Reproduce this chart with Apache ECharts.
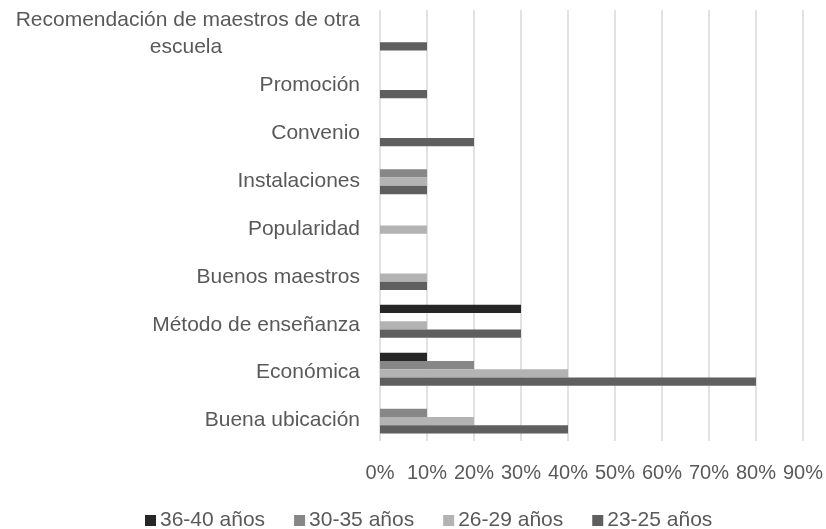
<!DOCTYPE html>
<html lang="es">
<head>
    <meta charset="UTF-8">
    <title>Motivos por edad</title>
    <script src="https://cdn.jsdelivr.net/npm/echarts@6/dist/echarts.min.js"></script>
    <style>
        html, body { margin: 0; padding: 0; background: #fff; }
    </style>
</head>
<body>
<div id="main" style="width: 826px;height:529px;"></div>

<script type="text/javascript">
    // categorias de abajo hacia arriba
    var categories = ['Buena ubicación', 'Económica', 'Método de enseñanza', 'Buenos maestros',
        'Popularidad', 'Instalaciones', 'Convenio', 'Promoción',
        'Recomendación de maestros de otra escuela'];
    var seriesNames = ['36-40 años', '30-35 años', '26-29 años', '23-25 años'];
    var s36a40 = [0, 10, 30, 0, 0, 0, 0, 0, 0];
    var s30a35 = [10, 20, 0, 0, 0, 10, 0, 0, 0];
    var s26a29 = [20, 40, 10, 10, 10, 10, 0, 0, 0];
    var s23a25 = [40, 80, 30, 10, 0, 10, 20, 10, 10];
    var xTicks = [0, 10, 20, 30, 40, 50, 60, 70, 80, 90];

    var colors = ['#262626', '#878787', '#b3b3b3', '#5f5f5f'];
    var font = 'Liberation Sans, Arial, sans-serif';
    var txt = '#595959';

    var myChart = echarts.init(document.getElementById('main'));

    function makeSeries(name, data, i) {
        return {
            name: name,
            type: 'bar',
            barGap: 0,
            barCategoryGap: '31%',
            itemStyle: { color: colors[i] },
            data: data
        };
    }

    var option = {
        animation: false,
        color: colors,
        grid: { left: 380, right: 21, top: 10, bottom: 88 },
        legend: {
            data: seriesNames,
            top: 510,
            left: 145,
            padding: 0,
            icon: 'rect',
            itemWidth: 11,
            itemHeight: 11,
            itemGap: 29,
            textStyle: { color: txt, fontSize: 21, fontFamily: font, padding: [0, 0, 0, -1] }
        },
        xAxis: {
            type: 'value',
            min: xTicks[0],
            max: xTicks[xTicks.length - 1],
            interval: 10,
            axisLine: { show: false },
            axisTick: { show: false },
            splitLine: { lineStyle: { color: '#d9d9d9', width: 1.5 } },
            axisLabel: {
                color: txt,
                fontSize: 20,
                fontFamily: font,
                margin: 22,
                formatter: '{value}%'
            }
        },
        yAxis: {
            type: 'category',
            data: categories,
            axisLine: { show: false },
            axisTick: { show: false },
            axisLabel: {
                color: txt,
                fontSize: 21,
                fontFamily: font,
                margin: 20,
                formatter: function (v) {
                    if (v.indexOf('Recomendación') === 0) {
                        return '{a|Recomendación de maestros de otra}\n{b|escuela}';
                    }
                    return '{c|' + v + '}';
                },
                rich: {
                    a: { fontSize: 21, color: txt, fontFamily: font, lineHeight: 27 },
                    b: { fontSize: 21, color: txt, fontFamily: font, lineHeight: 27, width: 348, align: 'center' },
                    c: { fontSize: 21, color: txt, fontFamily: font, lineHeight: 24, padding: [7, 0, 0, 0] }
                }
            }
        },
        series: [
            makeSeries(seriesNames[0], s36a40, 0),
            makeSeries(seriesNames[1], s30a35, 1),
            makeSeries(seriesNames[2], s26a29, 2),
            makeSeries(seriesNames[3], s23a25, 3)
        ]
    };
    myChart.setOption(option);
</script>
</body>
</html>
